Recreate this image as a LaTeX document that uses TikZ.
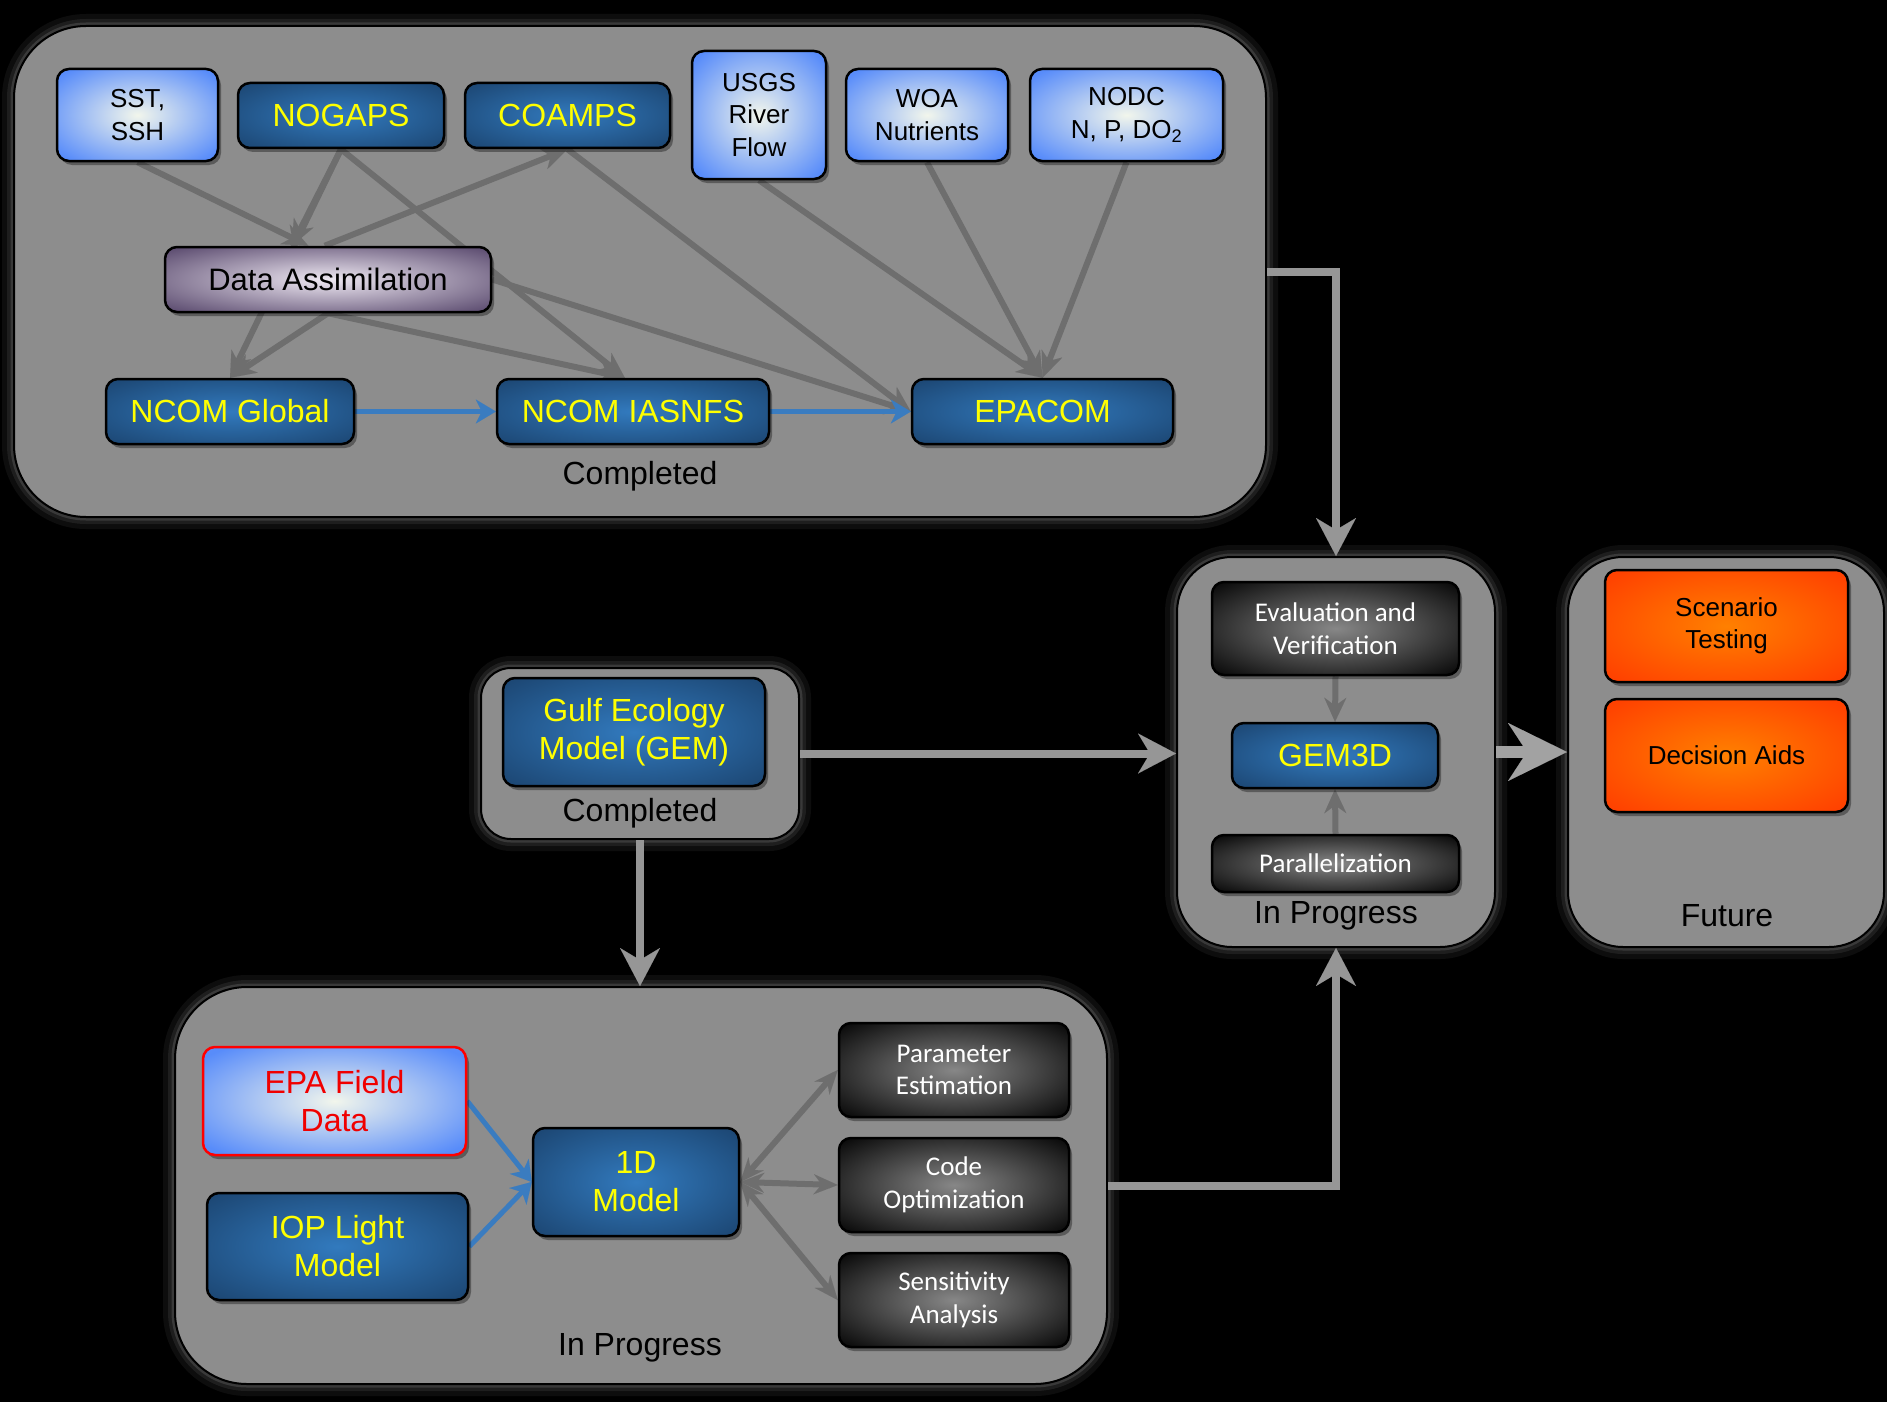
\documentclass[tikz,border=0pt]{standalone}
\usepackage{fontspec}
\setmainfont{Liberation Sans}
\newfontfamily\carl{Carlito}
\usetikzlibrary{arrows.meta,shadows,calc}
\pgfdeclarelayer{back}
\pgfdeclarelayer{mid}
\pgfsetlayers{back,mid,main}

\definecolor{panelgray}{RGB}{141,141,141}
\definecolor{linkgray}{RGB}{150,150,150}
\definecolor{biggray}{RGB}{162,162,162}
\definecolor{innergray}{RGB}{110,110,110}
\definecolor{bluearrow}{RGB}{58,124,192}
\definecolor{dbin}{RGB}{50,122,190}
\definecolor{dbout}{RGB}{22,56,94}
\definecolor{lbin}{RGB}{242,246,236}
\definecolor{lbout}{RGB}{88,140,250}
\definecolor{pin}{RGB}{238,232,242}
\definecolor{pout}{RGB}{92,76,112}
\definecolor{gin}{RGB}{135,135,135}
\definecolor{gout}{RGB}{10,10,10}
\definecolor{oin}{RGB}{255,128,0}
\definecolor{oout}{RGB}{255,44,0}
\definecolor{yel}{RGB}{255,255,0}
\definecolor{redtxt}{RGB}{240,0,0}

\pgfdeclareradialshading{dbshade}{\pgfpoint{0bp}{0bp}}{color(0bp)=(dbin); color(44bp)=(dbout); color(75bp)=(dbout)}
\pgfdeclareradialshading{lbshade}{\pgfpoint{0bp}{0bp}}{color(0bp)=(lbin); color(32bp)=(lbout); color(75bp)=(lbout)}
\pgfdeclareradialshading{pshade}{\pgfpoint{0bp}{0bp}}{color(0bp)=(pin); color(34bp)=(pout); color(75bp)=(pout)}
\pgfdeclareradialshading{gshade}{\pgfpoint{0bp}{0bp}}{color(0bp)=(gin); color(34bp)=(gout); color(75bp)=(gout)}
\pgfdeclareradialshading{oshade}{\pgfpoint{0bp}{0bp}}{color(0bp)=(oin); color(44bp)=(oout); color(75bp)=(oout)}

\tikzset{
  box/.style={rounded corners=12pt, draw=black, line width=2.5pt, align=center, inner sep=0pt,
    drop shadow={opacity=0.35, fill=black, shadow xshift=3pt, shadow yshift=-4pt}},
  darkblue/.style={box, shading=dbshade, shade, text=yel, font=\fontsize{32}{38}\selectfont},
  lightblue/.style={box, shading=lbshade, shade, text=black, font=\fontsize{26}{32.5}\selectfont},
  purplebox/.style={box, shading=pshade, shade, text=black, font=\fontsize{31}{37}\selectfont},
  darkgray/.style={box, shading=gshade, shade, text=white, font=\carl\fontsize{27}{32.5}\selectfont},
  orangebox/.style={box, shading=oshade, shade, text=black, font=\fontsize{26}{32.5}\selectfont},
  panel/.style={draw=black, line width=2pt, fill=panelgray, inner sep=0pt,
    preaction={draw=white, opacity=0.05, line width=24pt},
    preaction={draw=white, opacity=0.07, line width=14pt},
    preaction={draw=white, opacity=0.12, line width=7pt}},
  plabel/.style={inner sep=0pt, text=black, font=\fontsize{32}{38}\selectfont},
  garrow/.style={draw=innergray, line width=6pt, -{Stealth[length=26pt, width=22pt, inset=8pt, line width=0.01pt]}},
  darrow/.style={draw=innergray, line width=6pt, {Stealth[length=24pt, width=20pt, inset=8pt, line width=0.01pt]}-{Stealth[length=24pt, width=20pt, inset=8pt, line width=0.01pt]}},
  iarrow/.style={draw=innergray, line width=6pt, -{Stealth[length=24pt, width=22pt, inset=8pt, line width=0.01pt]}},
  barrow/.style={draw=bluearrow, line width=5pt, -{Stealth[length=20pt, width=24pt, inset=6pt, line width=0.01pt]}},
  link/.style={draw=linkgray, line width=8pt, -{Stealth[length=38pt, width=40pt, inset=12pt, line width=0.01pt]}},
  biglink/.style={draw=biggray, line width=12pt, -{Stealth[length=59pt, width=58pt, inset=19pt, line width=0.01pt]}},
}

\begin{document}
\begin{tikzpicture}[x=1pt, y=-1pt]
\useasboundingbox (0,0) rectangle (1887,1402);

\begin{pgfonlayer}{back}
\fill[black] (0,0) rectangle (1887,1402);
\node[panel, rounded corners=72pt, minimum width=1252pt, minimum height=491pt] (top) at (640,271.5) {};
\node[panel, rounded corners=55pt, minimum width=318pt, minimum height=390pt] (inprog) at (1336,752) {};
\node[panel, rounded corners=55pt, minimum width=316pt, minimum height=390pt] (future) at (1726,752) {};
\node[panel, rounded corners=30pt, minimum width=318pt, minimum height=171pt] (gulfp) at (640,753.5) {};
\node[panel, rounded corners=72pt, minimum width=932pt, minimum height=397pt] (botp) at (641,1185.5) {};
\end{pgfonlayer}

% top panel nodes
\node[lightblue, minimum width=161pt, minimum height=92pt] (sst) at (137.5,115) {SST,\\SSH};
\node[darkblue, minimum width=206pt, minimum height=65pt] (nogaps) at (341,115.5) {NOGAPS};
\node[darkblue, minimum width=205pt, minimum height=65pt] (coamps) at (567.5,115.5) {COAMPS};
\node[lightblue, minimum width=134pt, minimum height=128pt] (usgs) at (759,115) {USGS\\River\\Flow};
\node[lightblue, minimum width=162pt, minimum height=92pt] (woa) at (927,115) {WOA\\Nutrients};
\node[lightblue, minimum width=193pt, minimum height=92pt] (nodc) at (1126.5,115) {NODC\\N, P, DO\textsubscript{2}};
\node[purplebox, minimum width=326pt, minimum height=65pt] (da) at (328,279.5) {Data Assimilation};
\node[darkblue, minimum width=248pt, minimum height=65pt] (ncomg) at (230,411.5) {NCOM Global};
\node[darkblue, minimum width=272pt, minimum height=65pt] (ias) at (633,411.5) {NCOM IASNFS};
\node[darkblue, minimum width=261pt, minimum height=65pt] (epac) at (1042.5,411.5) {EPACOM};
\node[plabel] (toplab) at (640,476) {Completed};

% in progress panel
\node[darkgray, minimum width=247pt, minimum height=93pt] (ev) at (1335.5,628.5) {Evaluation and\\Verification};
\node[darkblue, minimum width=206pt, minimum height=65pt] (gem3d) at (1335,755.5) {GEM3D};
\node[darkgray, minimum width=247pt, minimum height=57pt] (par) at (1335.5,863.5) {Parallelization};
\node[plabel] (inproglab) at (1336,916) {In Progress};

% future panel
\node[orangebox, minimum width=243pt, minimum height=112pt] (scen) at (1726.5,626) {Scenario\\Testing};
\node[orangebox, minimum width=243pt, minimum height=113pt] (dec) at (1726.5,755.5) {Decision Aids};
\node[plabel] (futlab) at (1727,916) {Future};

% gulf panel
\node[darkblue, minimum width=262pt, minimum height=108pt] (gem) at (634,732) {Gulf Ecology\\Model (GEM)};
\node[plabel] (gulflab) at (640,813) {Completed};

% bottom panel
\node[lightblue, draw=red, text=redtxt, font=\fontsize{32}{38}\selectfont, minimum width=263pt, minimum height=108pt] (epaf) at (334.5,1101) {EPA Field\\Data};
\node[darkblue, minimum width=261pt, minimum height=107pt] (iop) at (337.5,1246.5) {IOP Light\\Model};
\node[darkblue, minimum width=206pt, minimum height=108pt] (oned) at (636,1182) {1D\\Model};
\node[darkgray, minimum width=230pt, minimum height=94pt] (param) at (954,1070) {Parameter\\Estimation};
\node[darkgray, minimum width=230pt, minimum height=94pt] (code) at (954,1185) {Code\\Optimization};
\node[darkgray, minimum width=230pt, minimum height=94pt] (sens) at (954,1300) {Sensitivity\\Analysis};
\node[plabel] (botlab) at (640,1348) {In Progress};

\begin{pgfonlayer}{mid}
% top panel connectors
\draw[garrow] (nogaps.south) -- (ncomg.north);
\draw[garrow] (sst.south) -- ($(da.north west)!0.44!(da.north east)$);
\draw[garrow] (nogaps.south) -- ($(da.north west)!0.39!(da.north east)$);
\draw[garrow] ($(da.north west)!0.49!(da.north east)$) -- (coamps.south);
\draw[garrow] (nogaps.south) -- ($(ias.north west)!0.47!(ias.north east)$);
\draw[garrow] (da.south) -- (ncomg.north);
\draw[garrow] (da.south) -- ($(ias.north west)!0.47!(ias.north east)$);
\draw[garrow] (da.east) -- (epac.west);
\draw[garrow] (coamps.south) -- (epac.west);
\draw[garrow] (usgs.south) -- (epac.north);
\draw[garrow] (woa.south) -- (epac.north);
\draw[garrow] (nodc.south) -- (epac.north);
\draw[barrow] (ncomg.east) -- (ias.west);
\draw[barrow] (ias.east) -- (epac.west);
% in progress
\draw[iarrow] (ev.south) -- (gem3d.north);
\draw[iarrow] (par.north) -- (gem3d.south);
% bottom
\draw[barrow] (epaf.east) -- (oned.west);
\draw[barrow] (iop.east) -- (oned.west);
\draw[darrow] (oned.east) -- (param.west);
\draw[darrow] (oned.east) -- (code.west);
\draw[darrow] (oned.east) -- (sens.west);
\end{pgfonlayer}

% links between panels
\draw[link] (top.east) -| (inprog.north);
\draw[link] (gulfp.east) -- (gulfp.east -| inprog.west);
\draw[link] (gulfp.south) -- (gulfp.south |- botp.north);
\draw[link] (botp.east) -| (inprog.south);
\draw[biglink] (inprog.east) -- (inprog.east -| future.west);
\end{tikzpicture}
\end{document}
